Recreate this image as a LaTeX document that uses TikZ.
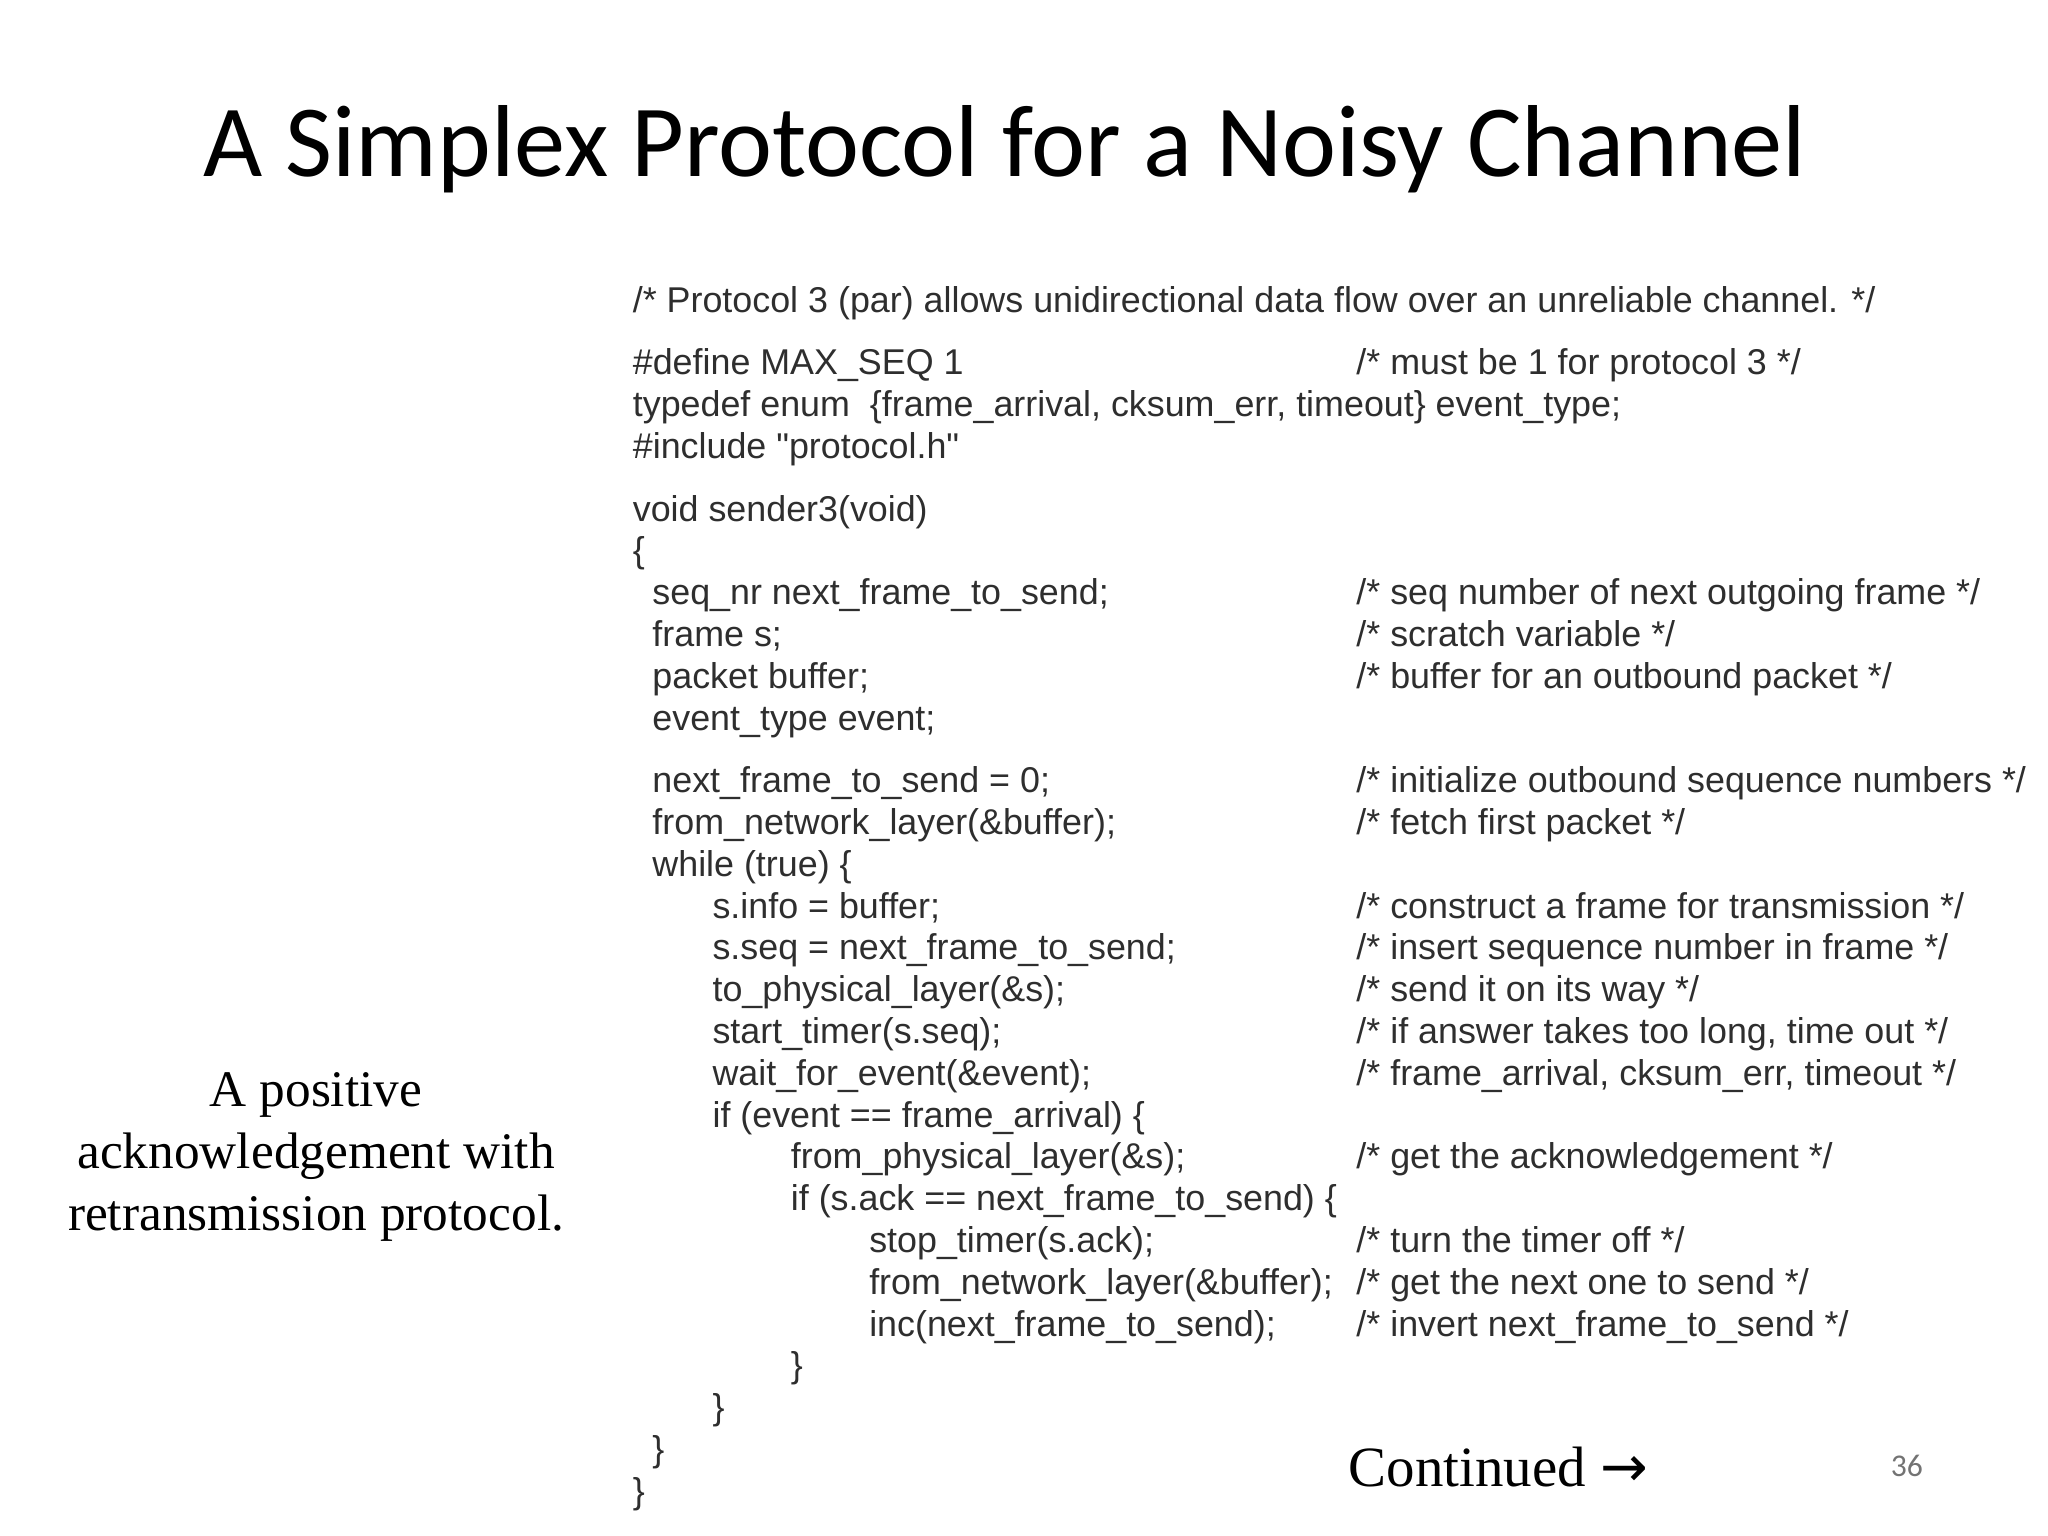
\documentclass[tikz,border=0pt]{standalone}
\usepackage{fontspec}
\setmainfont{Liberation Serif}
\newfontfamily\titlefont{Carlito}
\newfontfamily\codefont{Liberation Sans}
\newcounter{ln}
\tikzset{code/.style={anchor=base west,inner sep=0pt,font=\codefont\fontsize{10.2pt}{12pt}\selectfont,text=black!82}}
\newcommand\cl[3]{\stepcounter{ln}\node[code] (l\theln) at (#1,#2) {#3};}
\begin{document}
\begin{tikzpicture}[x=0.01306cm,y=-0.01306cm]
\useasboundingbox (0,0) rectangle (1568,1176);
\node[anchor=base west,inner sep=0pt,font=\titlefont\fontsize{29.1pt}{34pt}\selectfont] (title) at (155,135) {A Simplex Protocol for a Noisy Channel};
\def\a{484}\def\b{499}\def\c{545}\def\d{605}\def\e{665}\def\m{1038}
\cl{\a}{239}{/* Protocol 3 (par) allows unidirectional data flow over an unreliable channel. */}
\cl{\a}{287}{\#define MAX\_SEQ 1}
\cl{\m}{287}{/* must be 1 for protocol 3 */}
\cl{\a}{319}{typedef enum \ \{frame\_arrival, cksum\_err, timeout\} event\_type;}
\cl{\a}{351}{\#include "protocol.h"}
\cl{\a}{399}{void sender3(void)}
\cl{\a}{431}{\{}
\cl{\b}{463}{seq\_nr next\_frame\_to\_send;}
\cl{\m}{463}{/* seq number of next outgoing frame */}
\cl{\b}{495}{frame s;}
\cl{\m}{495}{/* scratch variable */}
\cl{\b}{527}{packet buffer;}
\cl{\m}{527}{/* buffer for an outbound packet */}
\cl{\b}{559}{event\_type event;}
\cl{\b}{607}{next\_frame\_to\_send = 0;}
\cl{\m}{607}{/* initialize outbound sequence numbers */}
\cl{\b}{639}{from\_network\_layer(\&buffer);}
\cl{\m}{639}{/* fetch first packet */}
\cl{\b}{671}{while (true) \{}
\cl{\c}{703}{s.info = buffer;}
\cl{\m}{703}{/* construct a frame for transmission */}
\cl{\c}{735}{s.seq = next\_frame\_to\_send;}
\cl{\m}{735}{/* insert sequence number in frame */}
\cl{\c}{767}{to\_physical\_layer(\&s);}
\cl{\m}{767}{/* send it on its way */}
\cl{\c}{799}{start\_timer(s.seq);}
\cl{\m}{799}{/* if answer takes too long, time out */}
\cl{\c}{831}{wait\_for\_event(\&event);}
\cl{\m}{831}{/* frame\_arrival, cksum\_err, timeout */}
\cl{\c}{863}{if (event == frame\_arrival) \{}
\cl{\d}{895}{from\_physical\_layer(\&s);}
\cl{\m}{895}{/* get the acknowledgement */}
\cl{\d}{927}{if (s.ack == next\_frame\_to\_send) \{}
\cl{\e}{959}{stop\_timer(s.ack);}
\cl{\m}{959}{/* turn the timer off */}
\cl{\e}{991}{from\_network\_layer(\&buffer);}
\cl{\m}{991}{/* get the next one to send */}
\cl{\e}{1023}{inc(next\_frame\_to\_send);}
\cl{\m}{1023}{/* invert next\_frame\_to\_send */}
\cl{\d}{1055}{\}}
\cl{\c}{1087}{\}}
\cl{\b}{1119}{\}}
\cl{\a}{1151}{\}}
\node[align=center,inner sep=0pt,font=\fontsize{14.6pt}{17.6pt}\selectfont] (side) at (242,886) {A positive\\acknowledgement with\\retransmission protocol.};
\node[anchor=base west,inner sep=0pt,font=\fontsize{16.2pt}{20pt}\selectfont] (cont) at (1032,1138) {Continued {\fontspec{DejaVu Sans}→}};
\node[inner sep=0pt,font=\titlefont\fontsize{9pt}{10pt}\selectfont,text=black!55] (pg) at (1460,1122) {36};
\end{tikzpicture}
\end{document}
